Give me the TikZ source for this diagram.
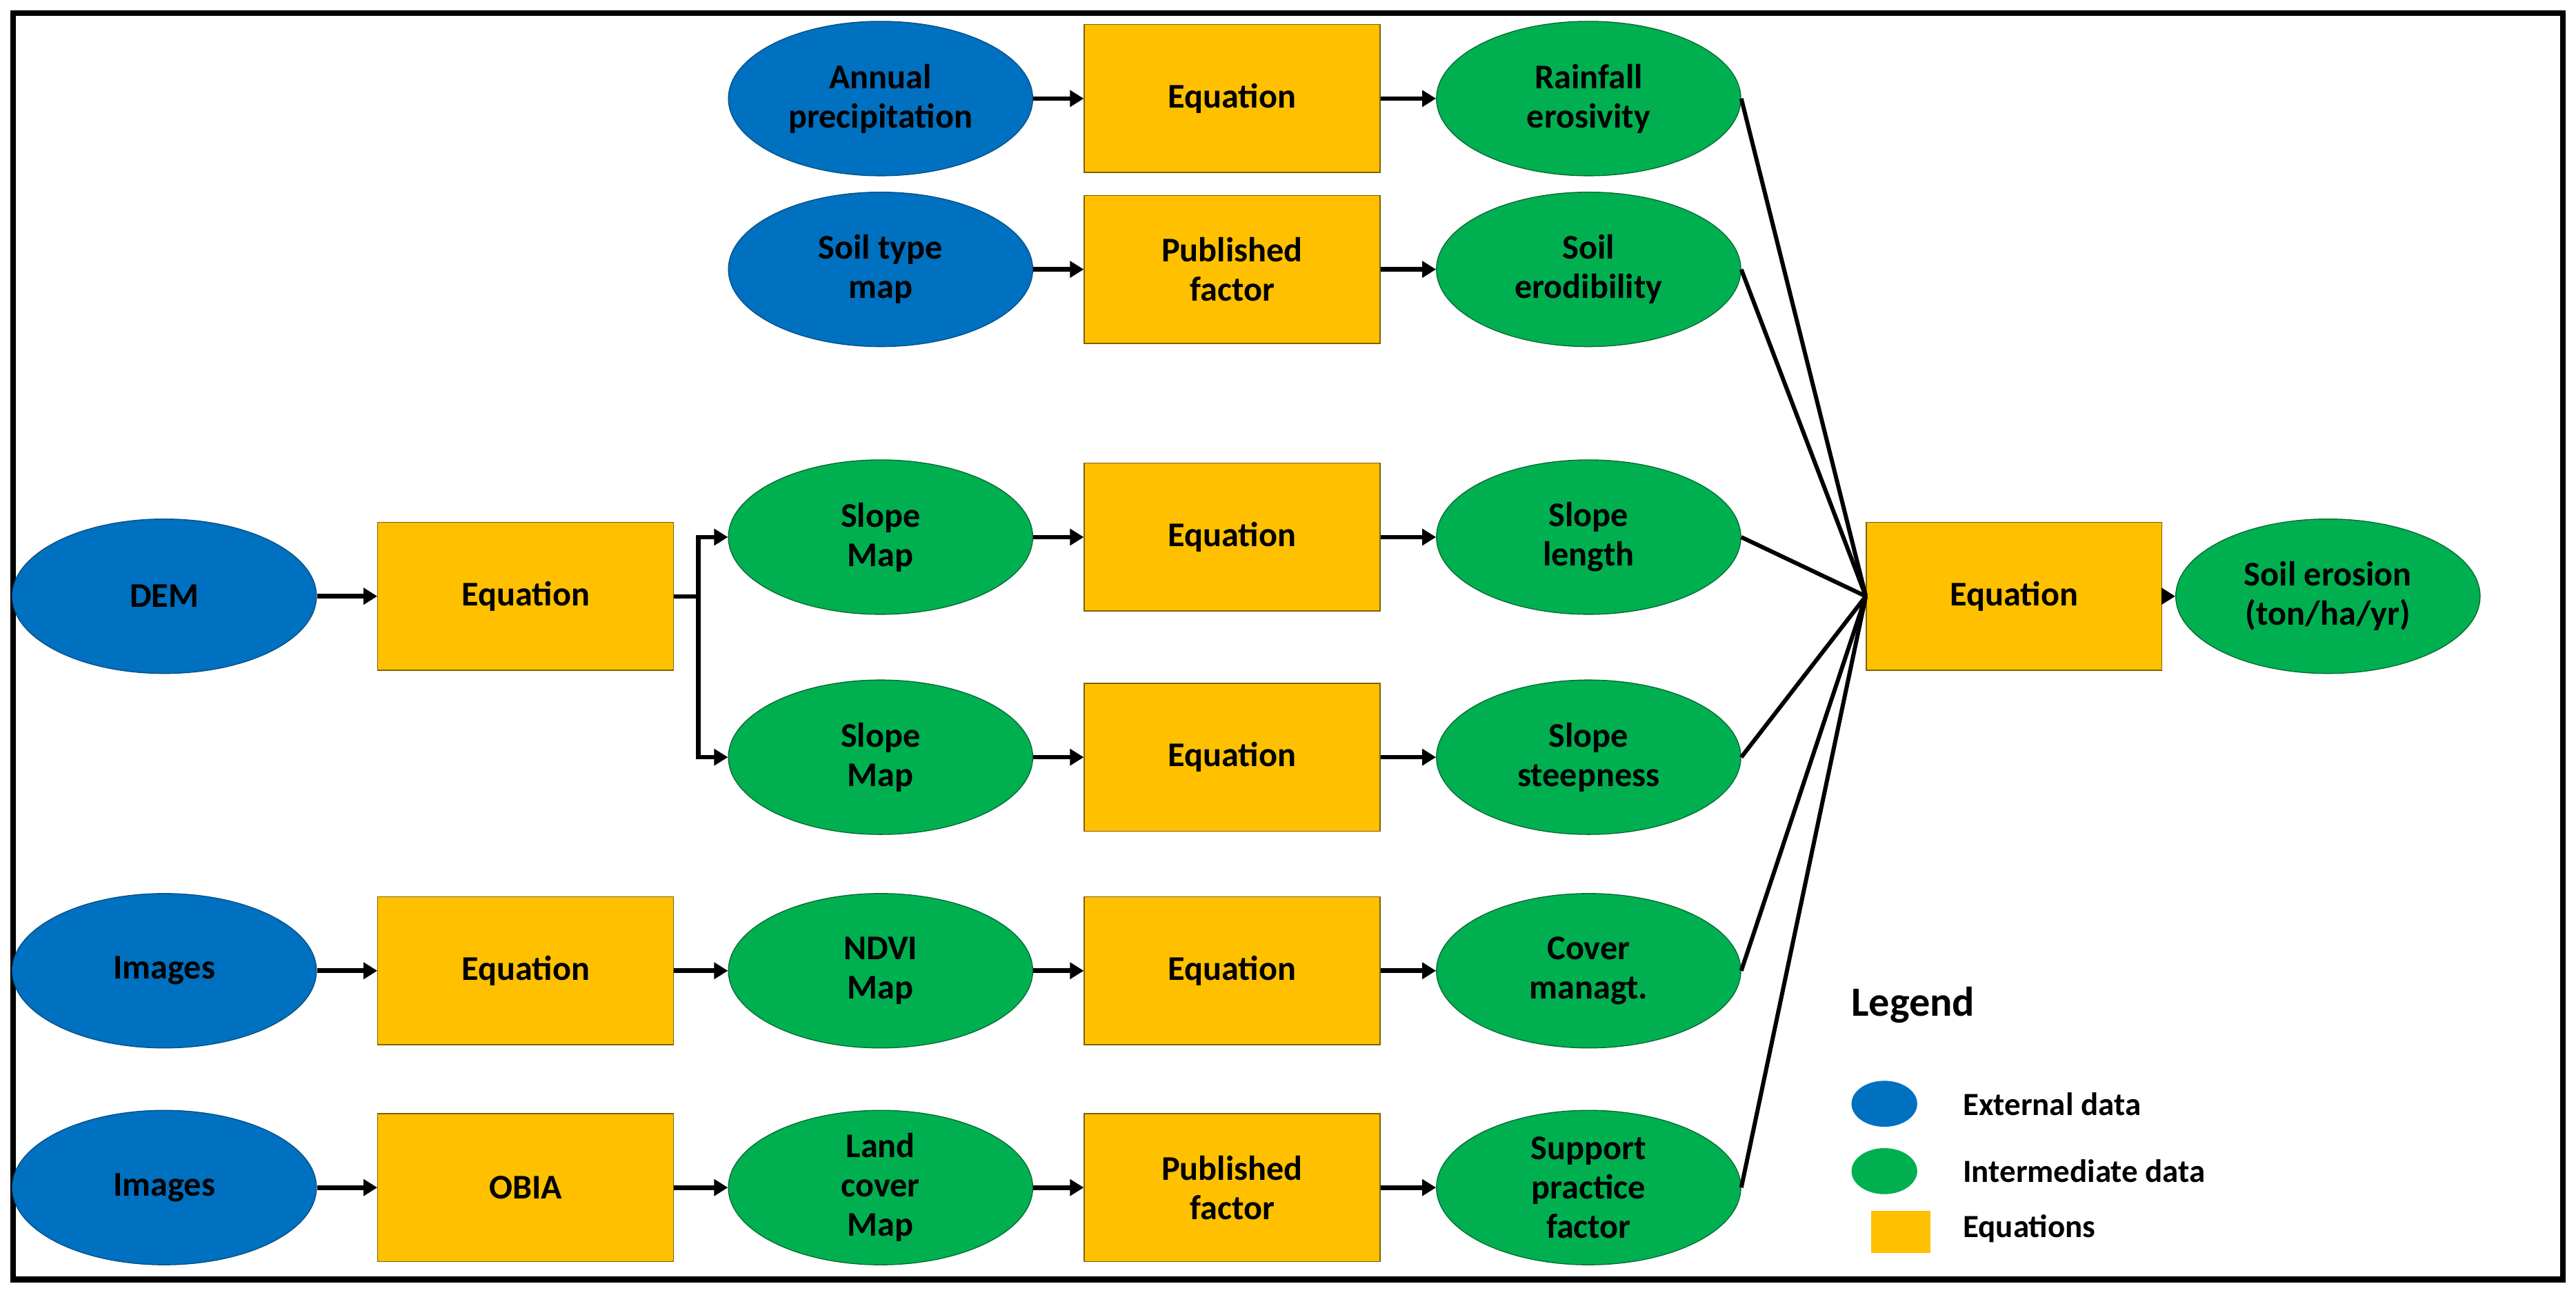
\documentclass[tikz,border=0pt]{standalone}
\usepackage{fontspec}
\setmainfont{Carlito}
\usetikzlibrary{shapes.geometric,arrows.meta}
\definecolor{extblue}{HTML}{0070C0}
\definecolor{intgreen}{HTML}{00B050}
\definecolor{eqnyellow}{HTML}{FFC000}
\tikzset{
  ext/.style={ellipse, draw=extblue!70!black, fill=extblue, minimum width=4.63cm, minimum height=2.35cm, align=center, font=\bfseries\fontsize{15}{17}\selectfont, inner sep=0pt},
  inter/.style={ext, draw=intgreen!60!black, fill=intgreen},
  eqn/.style={rectangle, draw=eqnyellow!50!black, fill=eqnyellow, minimum width=4.5cm, minimum height=2.25cm, align=center, font=\bfseries\fontsize{15}{17}\selectfont},
  arr/.style={-{Triangle[length=6pt,width=7pt]}, line width=2pt},
  link/.style={line width=1.8pt}
}
\begin{document}
\begin{tikzpicture}[x=0.025cm, y=-0.025cm]
    \useasboundingbox (0,0) rectangle (1568,788);
    \draw[line width=2.5pt] (8,8) rectangle (1560,779);

    % first column
    \node[ext] (dem) at (100,363) {DEM};
    \node[ext] (img1) at (100,591) {Images};
    \node[ext] (img2) at (100,723) {Images};

    \node[eqn] (demeq) at (320,363) {Equation};
    \node[eqn] (imgeq) at (320,591) {Equation};
    \node[eqn] (obia) at (320,723) {OBIA};

    % third column
    \node[ext] (prec) at (536,60) {Annual\\precipitation};
    \node[ext] (soilmap) at (536,164) {Soil type\\map};
    \node[inter] (slope1) at (536,327) {Slope\\Map};
    \node[inter] (slope2) at (536,461) {Slope\\Map};
    \node[inter] (ndvi) at (536,591) {NDVI\\Map};
    \node[inter] (land) at (536,723) {Land\\cover\\Map};

    \node[eqn] (raineq) at (750,60) {Equation};
    \node[eqn] (soileq) at (750,164) {Published\\factor};
    \node[eqn] (leneq) at (750,327) {Equation};
    \node[eqn] (steeq) at (750,461) {Equation};
    \node[eqn] (coveq) at (750,591) {Equation};
    \node[eqn] (supeq) at (750,723) {Published\\factor};

    % factors
    \node[inter] (rain) at (967,60) {Rainfall\\erosivity};
    \node[inter] (erod) at (967,164) {Soil\\erodibility};
    \node[inter] (len) at (967,327) {Slope\\length};
    \node[inter] (steep) at (967,461) {Slope\\steepness};
    \node[inter] (cover) at (967,591) {Cover\\managt.};
    \node[inter] (support) at (967,723) {Support\\practice\\factor};

    \node[eqn] (final) at (1226,363) {Equation};
    \node[inter] (loss) at (1417,363) {Soil erosion\\(ton/ha/yr)};

    \draw[arr] (dem) -- (demeq);
    \draw[arr] (img1) -- (imgeq);
    \draw[arr] (img2) -- (obia);
    \coordinate (fork) at (425,363);
    \draw[link] (demeq.east) -- (fork);
    \draw[arr] (fork) |- (slope1.west);
    \draw[arr] (fork) |- (slope2.west);
    \draw[arr] (imgeq) -- (ndvi);
    \draw[arr] (obia) -- (land);

    \draw[arr] (prec) -- (raineq);
    \draw[arr] (soilmap) -- (soileq);
    \draw[arr] (slope1) -- (leneq);
    \draw[arr] (slope2) -- (steeq);
    \draw[arr] (ndvi) -- (coveq);
    \draw[arr] (land) -- (supeq);

    \draw[arr] (raineq) -- (rain);
    \draw[arr] (soileq) -- (erod);
    \draw[arr] (leneq) -- (len);
    \draw[arr] (steeq) -- (steep);
    \draw[arr] (coveq) -- (cover);
    \draw[arr] (supeq) -- (support);

    \foreach \f in {rain,erod,len,steep,cover,support}
      \draw[link] (\f.east) -- (final.west);
    \draw[arr] (final) -- (loss);

    % legend
    \node[font=\bfseries\fontsize{18}{20}\selectfont, anchor=west] (legend) at (1122,612) {Legend};
    \node[ellipse, fill=extblue, minimum width=1.0cm, minimum height=0.7cm] (lext) at (1147,672) {};
    \node[ellipse, fill=intgreen, minimum width=1.0cm, minimum height=0.7cm] (lint) at (1147,713) {};
    \node[rectangle, fill=eqnyellow, minimum width=0.9cm, minimum height=0.65cm] (leqn) at (1157,750) {};
    \node[font=\bfseries\fontsize{14}{16}\selectfont, anchor=west] at (1190,672) {External data};
    \node[font=\bfseries\fontsize{14}{16}\selectfont, anchor=west] at (1190,713) {Intermediate data};
    \node[font=\bfseries\fontsize{14}{16}\selectfont, anchor=west] at (1190,748) {Equations};
\end{tikzpicture}
\end{document}
